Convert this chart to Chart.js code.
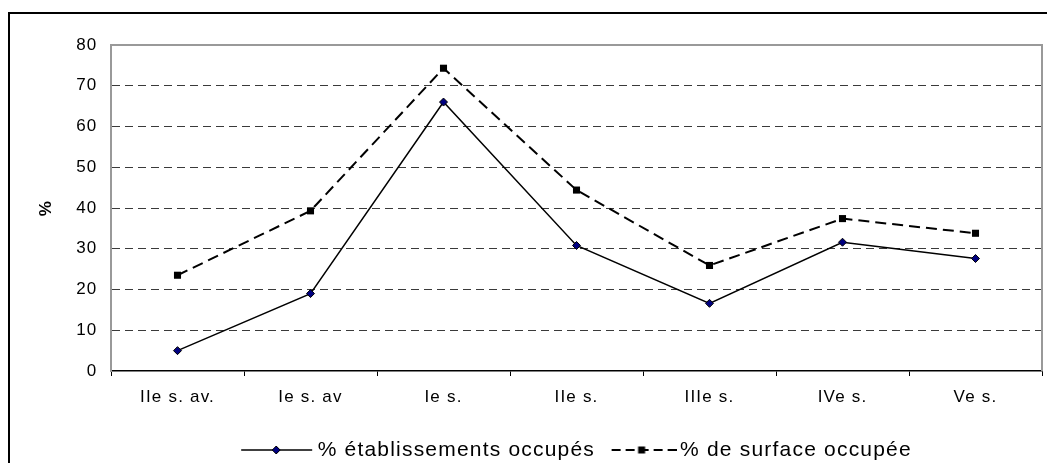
<!DOCTYPE html>
<html>
<head>
<meta charset="utf-8">
<script src="https://cdn.jsdelivr.net/npm/chart.js@4"></script>
<style>
  html, body { margin: 0; padding: 0; background: #fff; overflow: hidden; }
  #frame { position: absolute; left: 8px; top: 12px; width: 1200px; height: 600px; border: 2px solid #000; }
  #wrap { position: absolute; left: 0; top: 0; width: 1047px; height: 463px; }
</style>
</head>
<body>
<div id="frame"></div>
<div id="wrap"><canvas id="myChart" width="1047" height="463"></canvas></div>
<script>
// siècles
const periods = ['IIe s. av.', 'Ie s. av', 'Ie s.', 'IIe s.', 'IIIe s.', 'IVe s.', 'Ve s.'];
// % établissements occupés
const etablissements = [5, 19, 66, 30.8, 16.6, 31.6, 27.6];
// % de surface occupée
const surface = [23.5, 39.3, 74.3, 44.4, 25.9, 37.4, 33.8];
const yTicks = [0, 10, 20, 30, 40, 50, 60, 70, 80];

const FONT = "'Liberation Sans', Arial, sans-serif";

// small line + marker swatch used as legend symbol
function swatch(dashed) {
  const c = document.createElement('canvas');
  c.width = 80;
  c.height = 14;
  const g = c.getContext('2d');
  g.strokeStyle = '#000';
  if (dashed) {
    g.lineWidth = 2;
    g.setLineDash([9, 5]);
    g.beginPath(); g.moveTo(15, 7); g.lineTo(80, 7); g.stroke();
    g.setLineDash([]);
    g.fillStyle = '#000';
    g.fillRect(41.5, 3.5, 7, 7);
  } else {
    g.lineWidth = 1.5;
    g.beginPath(); g.moveTo(7, 7); g.lineTo(78, 7); g.stroke();
    g.fillStyle = '#000080';
    g.lineWidth = 1;
    g.beginPath();
    g.moveTo(42, 3); g.lineTo(46, 7); g.lineTo(42, 11); g.lineTo(38, 7); g.closePath();
    g.fill(); g.stroke();
  }
  return c;
}
const legendIcons = [swatch(false), swatch(true)];

// wide glyph spacing for every text on the canvas
const spacing = {
  id: 'spacing',
  beforeLayout(chart) { chart.ctx.letterSpacing = '1.2px'; },
  beforeDraw(chart) { chart.ctx.letterSpacing = '1.2px'; }
};

// grey frame on top and right of the plot area
const plotFrame = {
  id: 'plotFrame',
  beforeDatasetsDraw(chart) {
    const {ctx, chartArea: a} = chart;
    ctx.save();
    ctx.strokeStyle = '#999';
    ctx.lineWidth = 2;
    ctx.beginPath();
    ctx.moveTo(a.left, a.top);
    ctx.lineTo(a.right, a.top);
    ctx.lineTo(a.right, a.bottom);
    ctx.stroke();
    ctx.restore();
  }
};

const ctx = document.getElementById('myChart');

const etab_dataset = {
  label: '% établissements occupés',
  data: etablissements,
  borderColor: '#000',
  borderWidth: 1.5,
  tension: 0,
  fill: false,
  pointStyle: 'rectRot',
  pointRadius: 4,
  pointBackgroundColor: '#000080',
  pointBorderColor: '#000',
  pointBorderWidth: 1
};

const surf_dataset = {
  label: '% de surface occupée',
  data: surface,
  borderColor: '#000',
  borderWidth: 2,
  borderDash: [11, 6],
  tension: 0,
  fill: false,
  pointStyle: 'rect',
  pointRadius: 5,
  pointBackgroundColor: '#000',
  pointBorderColor: '#000',
  pointBorderWidth: 0
};

const myChart = new Chart(ctx, {
  type: 'line',
  data: {
    labels: periods,
    datasets: [etab_dataset, surf_dataset]
  },
  plugins: [spacing, plotFrame],
  options: {
    responsive: false,
    devicePixelRatio: 1,
    animation: false,
    layout: { padding: { left: 0, top: 45, right: 4, bottom: -7.5 } },
    plugins: {
      tooltip: { enabled: false },
      legend: {
        position: 'bottom',
        fullSize: false,
        labels: {
          usePointStyle: true,
          pointStyleWidth: 66,
          padding: 8.5,
          color: '#000',
          font: { family: FONT, size: 21 },
          generateLabels(chart) {
            const items = Chart.defaults.plugins.legend.labels.generateLabels(chart);
            items.forEach((it, k) => { it.pointStyle = legendIcons[k]; });
            return items;
          }
        }
      }
    },
    scales: {
      x: {
        offset: true,
        afterFit(scale) { scale.height = 60; },
        grid: {
          offset: true,
          drawOnChartArea: false,
          drawTicks: true,
          tickLength: 5,
          tickColor: '#000',
          tickWidth: 1
        },
        border: { color: '#000', width: 1.5 },
        ticks: {
          color: '#000',
          padding: 11,
          maxRotation: 0,
          font: { family: FONT, size: 17 }
        }
      },
      y: {
        min: 0,
        max: 80,
        afterFit(scale) { scale.width = 111; },
        afterBuildTicks(scale) { scale.ticks = yTicks.map(v => ({value: v})); },
        grid: {
          drawTicks: false,
          color: (c) => (c.tick && (c.tick.value === 80 || c.tick.value === 0)) ? 'rgba(0,0,0,0)' : '#3a3a3a',
          lineWidth: 1
        },
        border: { color: '#999', width: 2, dash: [8, 5] },
        ticks: {
          color: '#000',
          padding: 13.5,
          font: { family: FONT, size: 17 }
        },
        title: {
          display: true,
          text: '%',
          color: '#000',
          padding: { top: 36, bottom: 0 },
          font: { family: FONT, size: 17, weight: 'bold' }
        }
      }
    }
  }
});
</script>
</body>
</html>
